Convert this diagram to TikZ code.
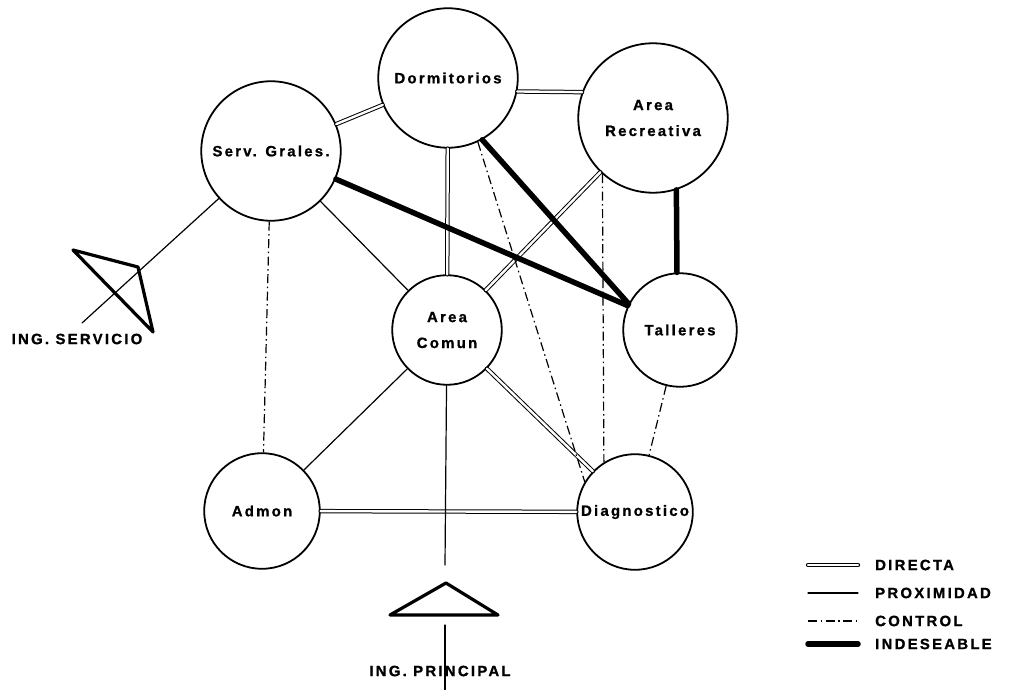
\documentclass[tikz,border=0pt]{standalone}
\usepackage{fontspec}
\setmainfont{Liberation Sans}
\newfontfamily\rotulo[LetterSpace=15,BoldFeatures={FakeBold=1}]{Liberation Sans}
\begin{document}
\begin{tikzpicture}[x=1bp,y=-1bp,line join=round,line cap=round,
	font=\rotulo\bfseries\fontsize{15}{26}\selectfont,
	zona/.style={circle,draw,line width=1.8bp,fill=white,inner sep=0pt,align=center},
	directa/.style={double,double distance=2.4bp,line width=1bp},
	proximidad/.style={line width=1.2bp},
	control/.style={line width=1.2bp,line cap=butt,dash pattern=on 9bp off 3.5bp on 1.5bp off 3.5bp},
	indeseable/.style={line width=5.5bp},
	acceso/.style={line width=3.2bp}]
	%% marco
	\useasboundingbox (0,0) rectangle (1014,690);
	%% zonas
	\node[zona,minimum size=140] (dorm) at (448,78) {Dormitorios};
	\node[zona,minimum size=150] (recr) at (653,118) {Area\\Recreativa};
	\node[zona,minimum size=140] (serv) at (271,151) {Serv. Grales.};
	\node[zona,minimum size=110] (comun) at (447,330) {Area\\Comun};
	\node[zona,minimum size=114] (tall) at (680,330) {Talleres};
	\node[zona,minimum size=116] (admon) at (262,511) {Admon};
	\node[zona,minimum size=116] (diag) at (635,512) {Diagnostico};
	%% accesos
	\coordinate (isv) at (82,323);
	\coordinate (ipa) at (445,565);
	\coordinate (ipb) at (445,625);
	\coordinate (ipc) at (445,690);
	\draw[acceso] (73,250) -- (138,267) -- (153,332) -- cycle;
	\draw[acceso] (390,615) -- (446,583) -- (498,615) -- cycle;
	\node (lisv) at (77,339) {ING. SERVICIO};
	\node (lpri) at (440,671) {ING. PRINCIPAL};
	%% relaciones
	\draw[directa] (serv) -- (dorm);
	\draw[directa] (dorm.-11) -- (recr.160);
	\draw[directa] (dorm) -- (comun);
	\draw[directa] (recr) -- (comun);
	\draw[directa] (comun) -- (diag);
	\draw[directa] (admon) -- (diag);
	\draw[proximidad] (serv) -- (comun);
	\draw[proximidad] (serv) -- (isv);
	\draw[proximidad] (comun) -- (admon);
	\draw[proximidad] (comun) -- (ipa);
	\draw[proximidad] (ipb) -- (ipc);
	\draw[control] (serv) -- (admon);
	\draw[control] (dorm.-65) -- (diag.149);
	\draw[control] (recr.-132) -- (diag.122);
	\draw[control] (tall) -- (diag);
	\draw[indeseable] (dorm.-61) -- (tall.153);
	\draw[indeseable] (serv) -- (tall.155);
	\draw[indeseable] (recr.-72) -- (tall.93);
	%% leyenda
	\foreach \estilo/\texto/\y in {directa/DIRECTA/565,proximidad/PROXIMIDAD/593,control/CONTROL/621,indeseable/INDESEABLE/644}
	{
		\draw[\estilo] (808,\y) -- (858,\y);
		\node[anchor=west,inner sep=0pt] (ley\estilo) at (875,\y) {\texto};
	}
\end{tikzpicture}
\end{document}
